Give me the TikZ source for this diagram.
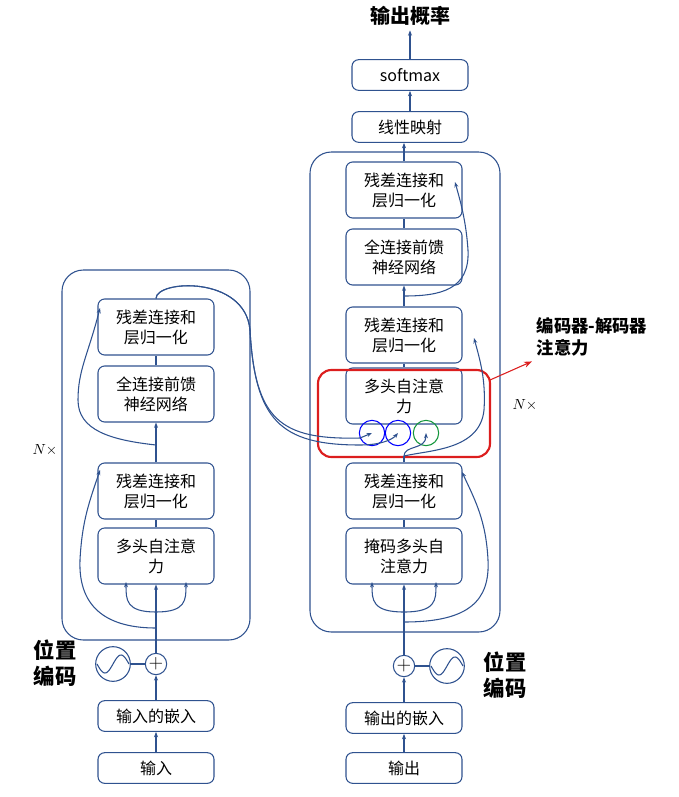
\documentclass[tikz,border=0pt]{standalone}
\usepackage{fontspec}
\setmainfont{Liberation Serif}
\newfontfamily\cjk{Noto Sans CJK SC}
\usetikzlibrary{arrows.meta}
\definecolor{lineblue}{RGB}{47,82,143}
\definecolor{redbox}{RGB}{220,30,30}
\definecolor{greenc}{RGB}{20,150,60}
\tikzset{
  blk/.style={draw=lineblue,thick,rounded corners=5pt,align=center,
    text width=82pt,minimum width=87pt,inner sep=2pt,font=\cjk\fontsize{12}{15}\selectfont},
  tall/.style={blk,minimum height=42pt},
  low/.style={blk,minimum height=23pt},
  outer/.style={draw=lineblue,thick,rounded corners=16pt},
  con/.style={draw=lineblue,thick,-{Stealth[length=4pt]}},
  ln/.style={draw=lineblue,thick},
  big/.style={font=\cjk\bfseries\fontsize{16}{20}\selectfont,align=left},
  att/.style={draw=#1,thick,circle,minimum size=19pt,inner sep=0pt},
}
\newcommand{\wave}[1]{\draw[ln] plot[domain=-1:1,samples=30] ({#1}+\x*16,{-9*sin(\x*180)} + 0);}
\begin{document}
\begin{tikzpicture}[x=0.75pt,y=-0.75pt]
\useasboundingbox (0,0) rectangle (679,797);

% encoder
\draw[outer] (62,270) rectangle (250,640);
\node[tall] (eadd2) at (156,327) {残差连接和\\层归一化};
\node[tall] (effn)  at (156,394) {全连接前馈\\神经网络};
\node[tall] (eadd1) at (156,491) {残差连接和\\层归一化};
\node[tall] (eatt)  at (156,556) {多头自注意\\力};
\node[font=\itshape\fontsize{11}{13}\selectfont] (en) at (45,450) {$N\times$};
\node[ln,circle,minimum size=16pt,inner sep=0pt] (eplus) at (156,664) {\Large$+$};
\node[ln,circle,minimum size=26pt] (esin) at (113,664) {};
\begin{scope}[shift={(esin.center)}]
  \draw[ln] plot[domain=-16:16,samples=30] (\x,{-9*sin(\x*180/16)});
\end{scope}
\node[big] (epos) at (55,663) {位置\\编码};
\node[low] (eemb) at (156,716) {输入的嵌入};
\node[low] (ein)  at (156,768) {输入};

% decoder
\draw[outer] (310,152) rectangle (500,632);
\node[tall] (dadd3) at (404,190) {残差连接和\\层归一化};
\node[tall] (dffn)  at (404,257) {全连接前馈\\神经网络};
\node[tall] (dadd2) at (404,335) {残差连接和\\层归一化};
\node[tall] (datt2) at (404,396) {多头自注意\\力};
\node[tall] (dadd1) at (404,491) {残差连接和\\层归一化};
\node[tall] (datt1) at (404,556) {掩码多头自\\注意力};
\node[font=\itshape\fontsize{11}{13}\selectfont] (dn) at (525,405) {$N\times$};
\node[low] (lin) at (410,127) {线性映射};
\node[low] (soft) at (410,75) {softmax};
\node[font=\cjk\bfseries\fontsize{15}{17}\selectfont] (prob) at (410,16) {输出概率};
\node[ln,circle,minimum size=16pt,inner sep=0pt] (dplus) at (404,666) {\Large$+$};
\node[ln,circle,minimum size=26pt] (dsin) at (447,666) {};
\begin{scope}[shift={(dsin.center)}]
  \draw[ln] plot[domain=-16:16,samples=30] (\x,{-9*sin(\x*180/16)});
\end{scope}
\node[big] (dpos) at (505,675) {位置\\编码};
\node[low] (demb) at (404,718) {输出的嵌入};
\node[low] (dout) at (404,768) {输出};

% cross attention highlight
\draw[redbox,line width=1.6pt,rounded corners=10pt] (318,370) rectangle (490,457);
\coordinate (rc) at (490,380);
\node[att=blue]   (q1) at (372,433) {};
\node[att=blue]   (q2) at (398,433) {};
\node[att=greenc] (q3) at (426,433) {};
\node[font=\cjk\bfseries\fontsize{13}{17}\selectfont,align=left] (xlbl) at (592,337) {编码器-解码器\\注意力};
\draw[redbox,thick,-{Stealth[length=6pt]}] (rc) -- (xlbl.south west);

% encoder flow
\draw[con] (ein) -- (eemb);
\draw[con] (eemb) -- (eplus);
\draw[ln] (esin) -- (eplus);
\draw[con] (eplus) -- (eatt);
\draw[con] (156,612) .. controls (126,612) and (126,600) .. (126,582);
\draw[con] (156,612) .. controls (186,612) and (186,600) .. (186,582);
\draw[ln] (eatt) -- (eadd1);
\draw[con] (156,628) .. controls (110,628) and (78,610) .. (80,560) .. controls (82,520) and (90,500) .. (100,470);
\draw[con] (eadd1) -- (effn);
\draw[con] (156,445) .. controls (110,440) and (78,430) .. (78,400) .. controls (78,370) and (88,355) .. (100,308);
\draw[ln] (effn) -- (eadd2);
\draw[con] (eadd2.north) .. controls (156,280) and (245,275) .. (250,330) .. controls (255,420) and (280,440) .. (360,438) -- (q1.center);
\draw[con] (eadd2.north) .. controls (156,280) and (245,275) .. (250,330) .. controls (255,420) and (280,445) .. (360,445) .. controls (380,445) and (392,440) .. (q2.center);

% decoder flow
\draw[con] (dout) -- (demb);
\draw[con] (demb) -- (dplus);
\draw[ln] (dsin) -- (dplus);
\draw[con] (dplus) -- (datt1);
\draw[con] (404,612) .. controls (372,612) and (372,600) .. (372,582);
\draw[con] (404,612) .. controls (436,612) and (436,600) .. (436,582);
\draw[ln] (datt1) -- (dadd1);
\draw[con] (404,622) .. controls (470,622) and (490,600) .. (488,560) .. controls (486,520) and (475,500) .. (462,472);
\draw[ln] (dadd1.north) -- (404,456);
\draw[con] (404,456) .. controls (404,445) and (426,450) .. (q3.center);
\draw[con] (404,456) .. controls (430,450) and (480,450) .. (484,410) .. controls (486,380) and (480,360) .. (474,338);
\draw[ln] (datt2) -- (dadd2);
\draw[con] (dadd2) -- (dffn);
\draw[con] (404,296) .. controls (440,296) and (470,290) .. (468,250) .. controls (466,220) and (460,200) .. (455,182);
\draw[ln] (dffn) -- (dadd3);
\draw[con] (dadd3) -- (lin.south -| dadd3);
\draw[con] (lin) -- (soft);
\draw[con] (soft) -- (prob);
\end{tikzpicture}
\end{document}
